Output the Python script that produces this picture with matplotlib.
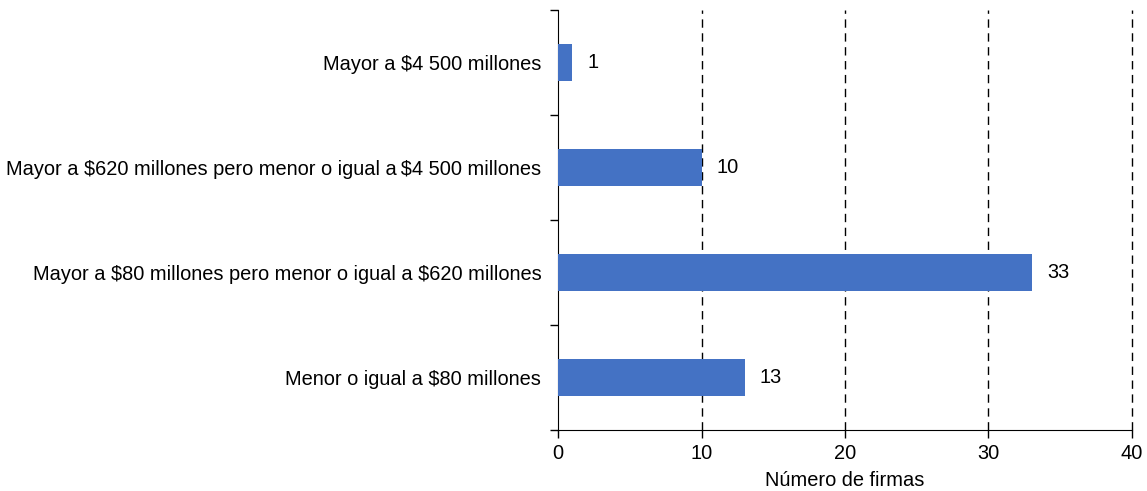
import matplotlib
matplotlib.use("Agg")
import matplotlib.pyplot as plt
from matplotlib.ticker import FixedLocator

plt.rcParams['font.family'] = ['Liberation Sans', 'DejaVu Sans']
plt.rcParams['text.parse_math'] = False

categories = [
    "Menor o igual a $80 millones",
    "Mayor a $80 millones pero menor o igual a $620 millones",
    "Mayor a $620 millones pero menor o igual a\u2009$4 500 millones",
    "Mayor a $4 500 millones",
]
firms = [13, 33, 10, 1]
x_ticks = [0, 10, 20, 30, 40]

FS = 14.4

fig = plt.figure(figsize=(11.47, 4.91), dpi=100)
ax = fig.add_axes([0.4865, 0.1242, 0.5004, 0.8554])

ypos = list(range(len(categories)))
ax.barh(ypos, firms, height=0.35, color="#4472C4", zorder=3)

for y, v in zip(ypos, firms):
    ax.annotate(str(v), xy=(v, y), xytext=(11, 0), textcoords="offset points",
                va="center", ha="left", fontsize=FS)

ax.set_xlim(0, 40)
ax.set_ylim(-0.5, len(categories) - 0.5)
ax.set_xticks(x_ticks)
ax.set_yticks(ypos)
ax.set_yticklabels(categories, fontsize=FS)
ax.tick_params(axis="y", which="major", length=0, pad=12)
ax.yaxis.set_minor_locator(FixedLocator([i - 0.5 for i in range(len(categories) + 1)]))
ax.tick_params(axis="y", which="minor", length=6, width=1)
ax.tick_params(axis="x", labelsize=FS, length=6, width=1, pad=4)

for xv in x_ticks[1:]:
    ax.axvline(xv, color="black", linestyle=(0, (6, 4)), linewidth=1, zorder=1,
               clip_on=False)

ax.spines["top"].set_visible(False)
ax.spines["right"].set_visible(False)
ax.set_xlabel("Número de firmas", fontsize=FS, labelpad=6)

fig.savefig("out.png", dpi=100)
